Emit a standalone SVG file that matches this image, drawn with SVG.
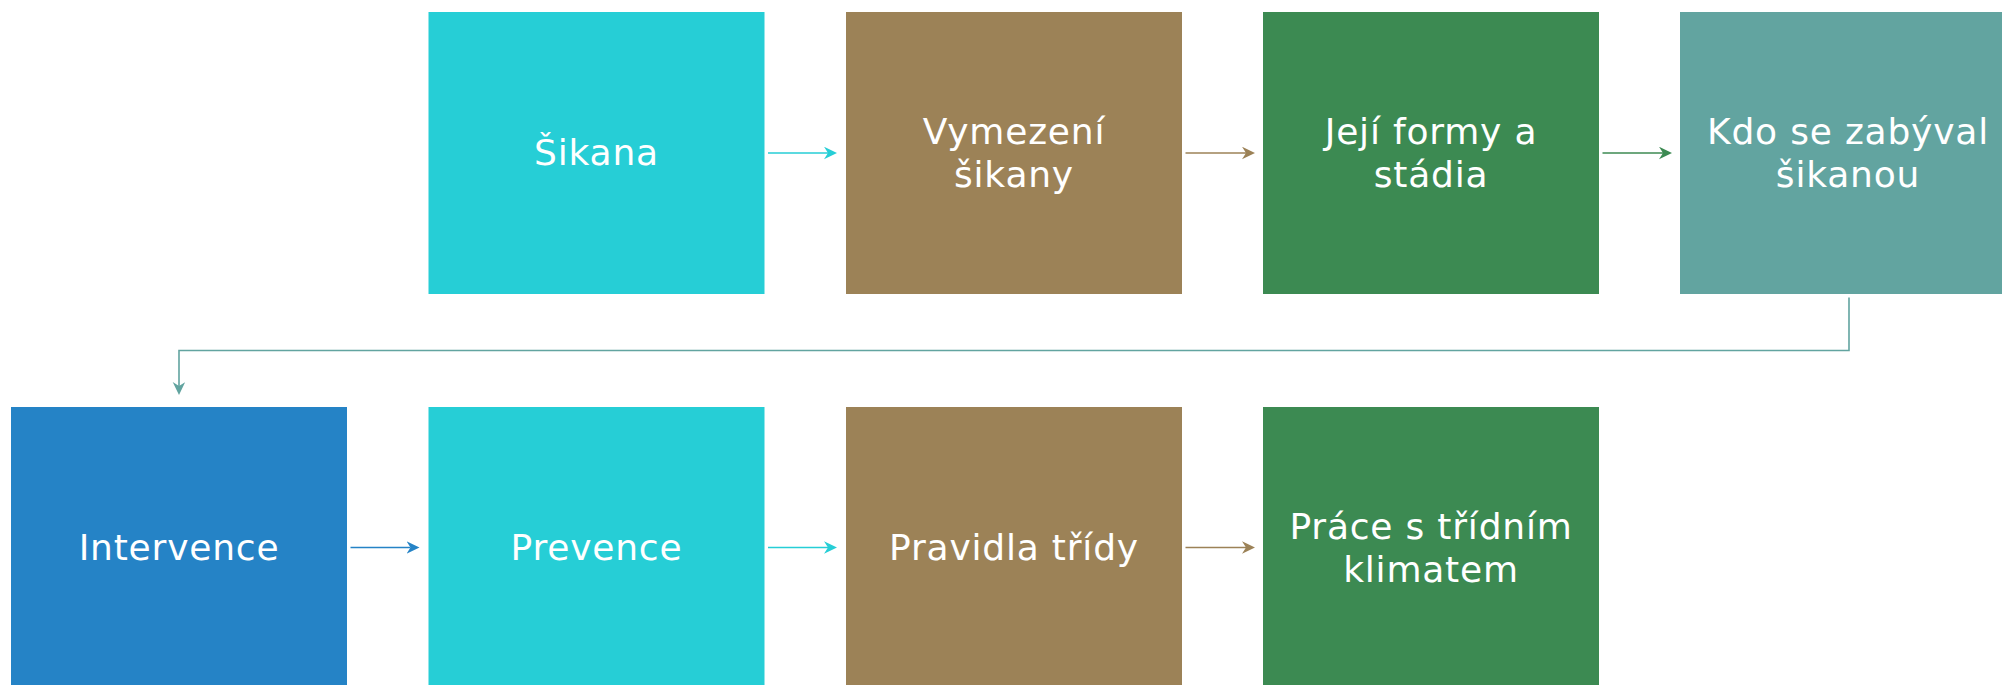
<svg xmlns="http://www.w3.org/2000/svg" width="2002" height="685" viewBox="0 0 2002 685">
  <style>
    .box { stroke: none; }
    .lbl { font-family: "DejaVu Sans", "Liberation Sans", sans-serif; font-size: 36px; fill: #ffffff; text-anchor: middle; letter-spacing: 0.8px; }
    .cn { fill: none; stroke-width: 1.6; }
  </style>
  <defs>
    <marker id="aCyan" markerUnits="userSpaceOnUse" markerWidth="14" markerHeight="14" refX="4" refY="6.3" orient="auto">
      <path d="M0,0 L13,6.3 L0,12.6 L4,6.3 z" fill="#26CED6"/>
    </marker>
    <marker id="aBrown" markerUnits="userSpaceOnUse" markerWidth="14" markerHeight="14" refX="4" refY="6.3" orient="auto">
      <path d="M0,0 L13,6.3 L0,12.6 L4,6.3 z" fill="#9C8257"/>
    </marker>
    <marker id="aGreen" markerUnits="userSpaceOnUse" markerWidth="14" markerHeight="14" refX="4" refY="6.3" orient="auto">
      <path d="M0,0 L13,6.3 L0,12.6 L4,6.3 z" fill="#3C8A52"/>
    </marker>
    <marker id="aBlue" markerUnits="userSpaceOnUse" markerWidth="14" markerHeight="14" refX="4" refY="6.3" orient="auto">
      <path d="M0,0 L13,6.3 L0,12.6 L4,6.3 z" fill="#2583C6"/>
    </marker>
    <marker id="aTeal" markerUnits="userSpaceOnUse" markerWidth="14" markerHeight="14" refX="4" refY="6.3" orient="auto">
      <path d="M0,0 L13,6.3 L0,12.6 L4,6.3 z" fill="#62A4A0"/>
    </marker>
  </defs>
  <rect width="2002" height="685" fill="#ffffff"/>

  <g id="n1">
    <rect class="box" x="428.5" y="12" width="336" height="282" fill="#26CED6"/>
    <text class="lbl" x="596.5" y="165">Šikana</text>
  </g>
  <g id="n2">
    <rect class="box" x="846" y="12" width="336" height="282" fill="#9C8257"/>
    <text class="lbl" x="1014" y="143.5">Vymezení</text>
    <text class="lbl" x="1014" y="187">šikany</text>
  </g>
  <g id="n3">
    <rect class="box" x="1263" y="12" width="336" height="282" fill="#3C8A52"/>
    <text class="lbl" x="1431" y="143.5">Její formy a</text>
    <text class="lbl" x="1431" y="187">stádia</text>
  </g>
  <g id="n4">
    <rect class="box" x="1680" y="12" width="336" height="282" fill="#62A4A0"/>
    <text class="lbl" x="1848" y="143.5">Kdo se zabýval</text>
    <text class="lbl" x="1848" y="187">šikanou</text>
  </g>
  <g id="n5">
    <rect class="box" x="11" y="407" width="336" height="282" fill="#2583C6"/>
    <text class="lbl" x="179" y="560">Intervence</text>
  </g>
  <g id="n6">
    <rect class="box" x="428.5" y="407" width="336" height="282" fill="#26CED6"/>
    <text class="lbl" x="596.5" y="560">Prevence</text>
  </g>
  <g id="n7">
    <rect class="box" x="846" y="407" width="336" height="282" fill="#9C8257"/>
    <text class="lbl" x="1014" y="560">Pravidla třídy</text>
  </g>
  <g id="n8">
    <rect class="box" x="1263" y="407" width="336" height="282" fill="#3C8A52"/>
    <text class="lbl" x="1431" y="538.5">Práce s třídním</text>
    <text class="lbl" x="1431" y="582">klimatem</text>
  </g>

  <g id="connectors">
    <line class="cn" x1="768" y1="153" x2="828" y2="153" stroke="#26CED6" marker-end="url(#aCyan)"/>
    <line class="cn" x1="1185.5" y1="153" x2="1246" y2="153" stroke="#9C8257" marker-end="url(#aBrown)"/>
    <line class="cn" x1="1602.5" y1="153" x2="1663" y2="153" stroke="#3C8A52" marker-end="url(#aGreen)"/>
    <polyline class="cn" points="1849,297.5 1849,350.5 179,350.5 179,386" stroke="#62A4A0" marker-end="url(#aTeal)"/>
    <line class="cn" x1="350.5" y1="547.5" x2="410.5" y2="547.5" stroke="#2583C6" marker-end="url(#aBlue)"/>
    <line class="cn" x1="768" y1="547.5" x2="828" y2="547.5" stroke="#26CED6" marker-end="url(#aCyan)"/>
    <line class="cn" x1="1185.5" y1="547.5" x2="1246" y2="547.5" stroke="#9C8257" marker-end="url(#aBrown)"/>
  </g>
</svg>
